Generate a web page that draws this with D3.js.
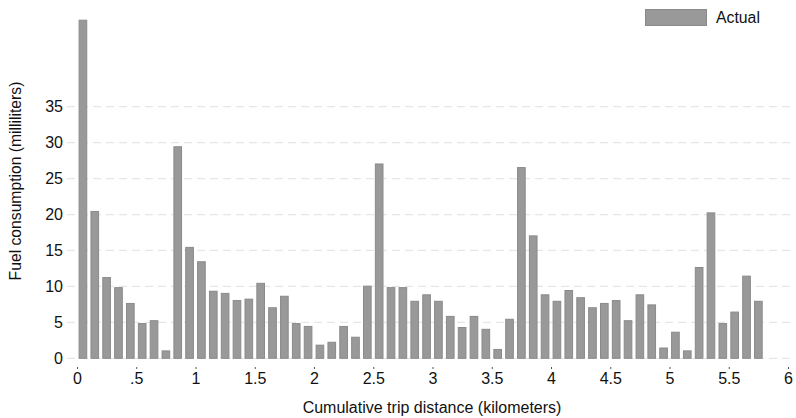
<!DOCTYPE html>
<html>
<head>
<meta charset="utf-8">
<script src="https://cdn.jsdelivr.net/npm/d3@7"></script>
<style>
  body { margin: 0; background: #fff; }
  svg { display: block; font-family: "Liberation Sans", Arial, sans-serif; }
</style>
</head>
<body>
<div id="chart"></div>
<script>
// distance midpoints (km) for each 100 m segment
const distances = d3.range(58).map(i => +(0.05 + i * 0.1).toFixed(2));
// fuel used per segment (ml)
const fuel = [
  47.1, 20.5, 11.3, 9.9, 7.7, 4.9, 5.3, 1.1, 29.5, 15.5,
  13.5, 9.4, 9.1, 8.1, 8.3, 10.5, 7.1, 8.7, 4.9, 4.5,
  1.9, 2.3, 4.5, 3.0, 10.1, 27.1, 9.9, 9.9, 8.0, 8.9,
  8.0, 5.9, 4.35, 5.9, 4.1, 1.3, 5.5, 26.6, 17.1, 8.9,
  8.0, 9.5, 8.5, 7.1, 7.7, 8.1, 5.3, 8.9, 7.5, 1.5,
  3.7, 1.1, 12.7, 20.3, 4.9, 6.5, 11.5, 8.0
];
const xTicks = [0, 0.5, 1, 1.5, 2, 2.5, 3, 3.5, 4, 4.5, 5, 5.5, 6];
const yTicks = [0, 5, 10, 15, 20, 25, 30, 35];

const width = 796, height = 418;
const barKm = 0.073;
const tickFont = "16px";

const svg = d3.select("#chart").append("svg")
  .attr("width", width)
  .attr("height", height);

const x = d3.scaleLinear().domain([0, 6]).range([77, 788]);
const y = d3.scaleLinear().domain([0, 35]).range([358.3, 106.7]);

// gridlines (dashed, light)
svg.append("g")
  .selectAll("line")
  .data(yTicks)
  .enter()
  .append("line")
  .attr("x1", 67)
  .attr("x2", 793)
  .attr("y1", d => y(d))
  .attr("y2", d => y(d))
  .attr("stroke", "#e6e6e6")
  .attr("stroke-width", 1.2)
  .attr("stroke-dasharray", "8,5");

// bars
const bw = x(barKm) - x(0);
svg.append("g")
  .selectAll("rect")
  .data(fuel)
  .enter()
  .append("rect")
  .attr("x", (d, i) => x(distances[i]) - bw / 2 + 0.5)
  .attr("width", bw - 1)
  .attr("y", d => y(d) + 0.5)
  .attr("height", d => y(0) - y(d) - 0.5)
  .attr("fill", "#999999")
  .attr("stroke", "#8a8a8a")
  .attr("stroke-width", 1);

// y axis
const yAxis = d3.axisLeft(y)
  .tickValues(yTicks)
  .tickSize(0)
  .tickPadding(0);
const gy = svg.append("g")
  .attr("transform", "translate(63,0)")
  .call(yAxis);
gy.select(".domain").remove();
gy.selectAll("text")
  .attr("fill", "#111")
  .style("font-size", tickFont)
  .style("font-family", "'Liberation Sans', Arial, sans-serif");

// x axis
const xAxis = d3.axisBottom(x)
  .tickValues(xTicks)
  .tickSize(2)
  .tickPadding(4)
  .tickFormat(d => String(d).replace(/^0\./, "."));
const gx = svg.append("g")
  .attr("transform", "translate(0,367)")
  .call(xAxis);
gx.select(".domain").remove();
gx.selectAll("line").attr("stroke", "#555");
gx.selectAll("text")
  .attr("fill", "#111")
  .style("font-size", tickFont)
  .style("font-family", "'Liberation Sans', Arial, sans-serif");

// axis titles
svg.append("text")
  .attr("x", 432)
  .attr("y", 413)
  .attr("text-anchor", "middle")
  .attr("fill", "#111")
  .style("font-size", "16px")
  .text("Cumulative trip distance (kilometers)");

svg.append("text")
  .attr("transform", "translate(21,181) rotate(-90)")
  .attr("text-anchor", "middle")
  .attr("fill", "#111")
  .style("font-size", "15.7px")
  .text("Fuel consumption (milliliters)");

// legend
svg.append("rect")
  .attr("x", 645.5)
  .attr("y", 9.5)
  .attr("width", 61)
  .attr("height", 16)
  .attr("fill", "#999999")
  .attr("stroke", "#8a8a8a");
svg.append("text")
  .attr("x", 716)
  .attr("y", 23)
  .attr("fill", "#111")
  .style("font-size", "15.8px")
  .text("Actual");
</script>
</body>
</html>
